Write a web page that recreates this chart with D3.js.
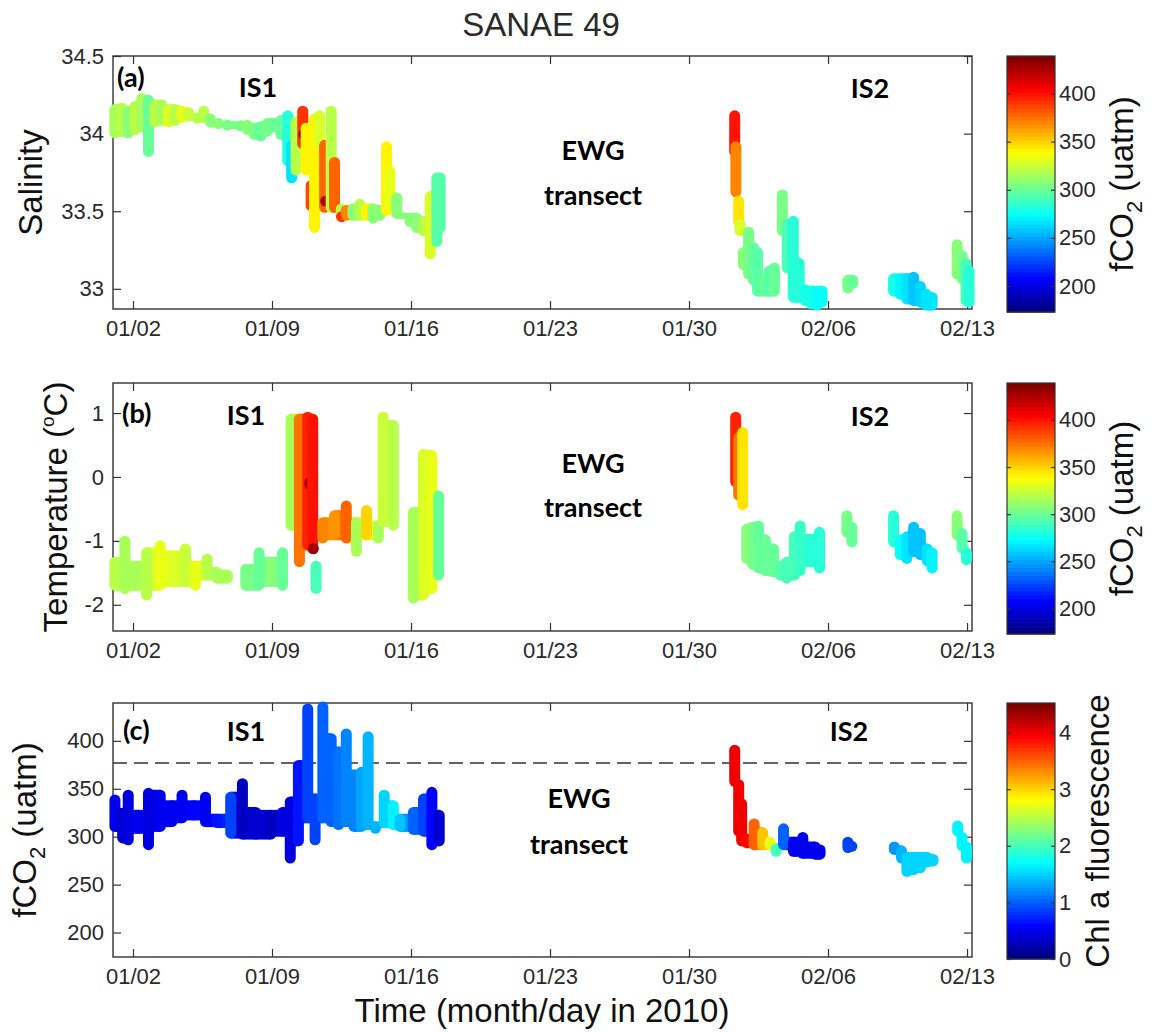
<!DOCTYPE html>
<html>
<head>
<meta charset="utf-8">
<script src="https://cdn.jsdelivr.net/npm/d3@7"></script>
<style>
    body { margin: 0; background: #fff; }
    svg text { font-family: "Liberation Sans", Arial, sans-serif; }
</style>
</head>
<body>
<svg id="chart" width="1157" height="1032"></svg>
<script>
// x ticks (day of 2010, Jan 1 = 1)
const tickDays = [2, 9, 16, 23, 30, 37, 44];

// each row: [day, low value, high value, colour value]
// (a) salinity, coloured by fCO2
const salinityIS1 = [
    [1.09, 33.97, 34.19, 315], [1.43, 33.98, 34.20, 320], [1.76, 33.97, 34.18, 310],
    [2.10, 33.99, 34.21, 320], [2.44, 34.01, 34.26, 315], [2.78, 33.85, 34.25, 300],
    [3.11, 34.04, 34.22, 320], [3.45, 34.05, 34.22, 315], [3.79, 34.04, 34.19, 330],
    [4.13, 34.05, 34.19, 320], [4.47, 34.07, 34.18, 335], [4.80, 34.08, 34.17, 325],
    [5.23, 34.07, 34.13, 320], [5.56, 34.07, 34.18, 320], [5.90, 34.04, 34.13, 310],
    [6.32, 34.04, 34.09, 310], [6.75, 34.03, 34.08, 305], [7.42, 34.02, 34.08, 305],
    [7.76, 33.99, 34.09, 310], [8.10, 33.96, 34.07, 305], [8.44, 33.95, 34.08, 300],
    [8.77, 33.98, 34.10, 305], [9.11, 34.01, 34.10, 300], [9.45, 33.96, 34.12, 300],
    [9.79, 33.79, 34.15, 285], [9.99, 33.68, 33.96, 268], [10.21, 33.73, 34.11, 320],
    [10.55, 33.90, 34.18, 390], [10.60, 33.97, 34.02, 430], [10.72, 33.73, 34.07, 340],
    [10.97, 33.50, 33.70, 385], [11.14, 33.36, 34.13, 340], [11.39, 33.90, 34.15, 330],
    [11.65, 33.49, 33.96, 380], [11.70, 33.55, 33.58, 425], [11.98, 33.49, 34.18, 320],
    [12.15, 33.49, 33.85, 380], [12.49, 33.44, 33.55, 320], [12.50, 33.45, 33.48, 390],
    [12.74, 33.44, 33.54, 370], [13.08, 33.44, 33.55, 310], [13.42, 33.44, 33.58, 320],
    [13.76, 33.44, 33.55, 340], [14.09, 33.42, 33.55, 310], [14.43, 33.44, 33.54, 310],
    [14.77, 33.47, 33.95, 340], [14.94, 33.51, 33.79, 335], [15.28, 33.45, 33.62, 310],
    [15.95, 33.40, 33.49, 310], [16.29, 33.36, 33.49, 310], [16.63, 33.34, 33.47, 320],
    [16.97, 33.19, 33.63, 330], [17.30, 33.27, 33.75, 295], [17.47, 33.36, 33.75, 295]
];
const salinityIS2 = [
    [32.30, 33.85, 34.15, 398], [32.36, 33.59, 33.95, 372], [32.50, 33.40, 33.60, 345],
    [32.57, 33.34, 33.45, 330], [32.74, 33.12, 33.27, 310], [33.00, 33.06, 33.40, 305],
    [33.25, 33.02, 33.30, 300], [33.45, 32.95, 33.27, 295], [33.70, 32.95, 33.10, 300],
    [34.05, 32.95, 33.15, 295], [34.30, 32.95, 33.17, 300], [34.70, 33.34, 33.64, 305],
    [34.95, 33.10, 33.45, 290], [35.25, 32.91, 33.47, 285], [35.55, 32.91, 33.20, 285],
    [35.85, 32.89, 33.03, 280], [36.15, 32.87, 33.02, 278], [36.44, 32.86, 33.02, 275],
    [36.70, 32.88, 33.02, 275], [38.00, 32.97, 33.09, 305], [38.25, 33.00, 33.09, 300],
    [40.30, 32.95, 33.10, 280], [40.64, 32.93, 33.10, 272], [40.97, 32.90, 33.10, 265],
    [41.31, 32.89, 33.11, 258], [41.65, 32.88, 33.05, 262], [41.95, 32.86, 33.00, 265],
    [42.24, 32.86, 32.98, 265], [43.50, 33.06, 33.32, 310], [43.75, 33.03, 33.25, 305],
    [43.95, 32.89, 33.20, 290], [44.10, 32.88, 33.15, 285]
];

// (b) temperature, coloured by fCO2
const temperatureIS1 = [
    [1.09, -1.78, -1.25, 320], [1.59, -1.83, -0.92, 315], [2.10, -1.78, -1.31, 315],
    [2.69, -1.93, -1.10, 320], [3.37, -1.78, -0.99, 335], [4.04, -1.72, -1.15, 330],
    [4.64, -1.72, -1.04, 325], [5.14, -1.78, -1.31, 335], [5.73, -1.62, -1.20, 320],
    [6.24, -1.67, -1.41, 315], [6.75, -1.67, -1.45, 315], [7.68, -1.78, -1.36, 305],
    [8.35, -1.78, -1.10, 300], [8.94, -1.72, -1.25, 310], [9.53, -1.78, -1.10, 300],
    [9.96, -0.84, 0.99, 318], [10.38, -1.41, 0.99, 375], [10.80, -1.15, 1.02, 395],
    [10.90, -0.20, 0.00, 425], [11.05, -1.20, 0.99, 400], [11.08, -1.15, -1.10, 430],
    [11.22, -1.83, -1.31, 290], [11.56, -1.04, -0.63, 370], [12.15, -0.99, -0.52, 365],
    [12.74, -1.04, -0.37, 380], [13.25, -1.25, -0.63, 315], [13.76, -0.99, -0.44, 350],
    [14.35, -1.04, -0.68, 315], [14.60, -0.78, 1.02, 325], [15.11, -0.84, 0.89, 320],
    [16.12, -1.98, -0.47, 315], [16.63, -1.93, 0.44, 330], [17.05, -1.83, 0.42, 335],
    [17.39, -1.62, -0.21, 300]
];
const temperatureIS2 = [
    [32.35, -0.16, 1.02, 395], [32.50, -0.37, 0.70, 375], [32.70, -0.52, 0.78, 345],
    [32.91, -1.36, -0.73, 310], [33.20, -1.45, -0.70, 305], [33.50, -1.51, -0.68, 300],
    [33.85, -1.55, -0.90, 298], [34.25, -1.57, -1.04, 300], [34.60, -1.62, -1.31, 295],
    [34.92, -1.67, -1.25, 290], [35.30, -1.62, -0.85, 290], [35.60, -1.55, -0.68, 288],
    [36.10, -1.41, -0.89, 285], [36.57, -1.51, -0.78, 285], [37.95, -0.95, -0.52, 302],
    [38.20, -1.10, -0.70, 298], [40.30, -1.10, -0.52, 282], [40.64, -1.30, -0.90, 275],
    [40.97, -1.36, -0.85, 268], [41.31, -1.25, -0.70, 258], [41.65, -1.30, -0.80, 258],
    [42.00, -1.40, -1.04, 268], [42.24, -1.51, -1.10, 272], [43.50, -0.99, -0.52, 308],
    [43.75, -1.20, -0.80, 295], [43.97, -1.38, -1.10, 285]
];

// (c) fCO2, coloured by Chl a fluorescence
const fco2IS1 = [
    [1.09, 305, 344, 0.5], [1.48, 293, 330, 0.4], [1.76, 291, 349, 0.45],
    [2.22, 303, 328, 0.5], [2.78, 286, 351, 0.45], [3.37, 305, 349, 0.55],
    [3.96, 310, 338, 0.5], [4.47, 314, 349, 0.55], [5.06, 317, 338, 0.6],
    [5.65, 310, 347, 0.55], [6.24, 309, 324, 0.7], [6.92, 298, 347, 0.85],
    [7.51, 297, 361, 0.35], [8.18, 297, 331, 0.4], [8.94, 297, 328, 0.35],
    [9.53, 300, 331, 0.45], [9.92, 272, 342, 0.45], [10.33, 290, 380, 0.7],
    [10.80, 314, 439, 0.85], [11.17, 291, 345, 0.9], [11.56, 314, 441, 1.0],
    [11.98, 310, 408, 1.05], [12.35, 307, 394, 1.1], [12.74, 310, 413, 1.15],
    [13.13, 305, 370, 1.2], [13.50, 305, 373, 1.3], [13.84, 307, 410, 1.35],
    [14.21, 303, 316, 1.4], [14.65, 309, 349, 1.55], [15.11, 307, 338, 1.65],
    [15.45, 305, 324, 1.45], [16.12, 302, 331, 1.0], [16.63, 300, 345, 0.9],
    [17.05, 286, 352, 0.6], [17.42, 290, 328, 0.4]
];
const fco2IS2 = [
    [32.30, 352, 396, 4.0], [32.50, 300, 360, 4.0], [32.65, 290, 340, 4.0],
    [32.91, 288, 303, 3.9], [33.28, 286, 319, 3.5], [33.71, 286, 310, 3.1],
    [34.08, 286, 300, 2.7], [34.39, 279, 293, 2.0], [34.76, 286, 314, 1.0],
    [35.26, 279, 300, 0.55], [35.73, 277, 305, 0.5], [36.35, 276, 295, 0.55],
    [36.60, 276, 292, 0.55], [38.00, 283, 300, 0.85], [38.20, 285, 295, 0.85],
    [40.34, 281, 295, 1.25], [40.70, 272, 291, 1.4], [40.97, 258, 284, 1.5],
    [41.31, 260, 284, 1.55], [41.65, 262, 284, 1.55], [42.00, 268, 284, 1.55],
    [42.29, 269, 282, 1.55], [43.53, 300, 317, 1.65], [43.75, 285, 305, 1.65],
    [43.97, 272, 295, 1.65]
];

const atmosphericFco2 = 377;
const fco2ColorRange = [173, 439];
const fco2ColorTicks = [200, 250, 300, 350, 400];
const chlColorRange = [0, 4.52];
const chlColorTicks = [0, 1, 2, 3, 4];

const svg = d3.select('#chart');
const plotLeft = 113, plotRight = 972;
const barLeft = 1007, barRight = 1055;
const markR = 5.5;
const maxGapDays = 0.8;
const ink = '#2a2a2a';

const dayToDate = d => new Date(new Date(2010, 0, 0).getTime() + d * 864e5);

const x = d3.scaleTime()
    .domain([dayToDate(0.993), dayToDate(44.25)])
    .range([plotLeft, plotRight]);

// MATLAB jet colormap, 64 levels
function jet(v) {
    v = Math.max(0, Math.min(1, v));
    v = Math.min(63, Math.floor(v * 64)) / 63;
    const c = t => Math.round(255 * Math.max(0, Math.min(1, 1.5 - Math.abs(t))));
    return `rgb(${c(4 * v - 3)},${c(4 * v - 2)},${c(4 * v - 1)})`;
}

const panels = [
    {
        top: 56, bottom: 309, yDomain: [32.87, 34.5], yTicks: [33, 33.5, 34, 34.5],
        series: [salinityIS1, salinityIS2], cRange: fco2ColorRange, cTicks: fco2ColorTicks,
        barTop: 56, barBottom: 312, ylabel: 'sal', ylabelX: 42, cbLabel: 'fco2', cbLabelX: 1133,
        notes: [['(a)', 117, 87, 'start'], ['IS1', 258, 97], ['EWG', 593, 160],
                ['transect', 593, 205], ['IS2', 870, 98]]
    },
    {
        top: 383, bottom: 631, yDomain: [-2.41, 1.47], yTicks: [-2, -1, 0, 1],
        series: [temperatureIS1, temperatureIS2], cRange: fco2ColorRange, cTicks: fco2ColorTicks,
        barTop: 383, barBottom: 634, ylabel: 'temp', ylabelX: 67, cbLabel: 'fco2', cbLabelX: 1133,
        notes: [['(b)', 122, 423, 'start'], ['IS1', 246, 425], ['EWG', 593, 473],
                ['transect', 593, 517], ['IS2', 870, 426]]
    },
    {
        top: 703, bottom: 957, yDomain: [174.5, 439.5], yTicks: [200, 250, 300, 350, 400],
        series: [fco2IS1, fco2IS2], cRange: chlColorRange, cTicks: chlColorTicks,
        barTop: 703, barBottom: 959, ylabel: 'fco2', ylabelX: 36, cbLabel: 'chl', cbLabelX: 1109,
        notes: [['(c)', 123, 740, 'start'], ['IS1', 246, 741], ['EWG', 579, 808],
                ['transect', 579, 854], ['IS2', 849, 741]],
        refLine: atmosphericFco2
    }
];

// title
svg.append('text')
    .attr('x', 541).attr('y', 36)
    .attr('text-anchor', 'middle')
    .style('font-size', '33px').style('fill', ink)
    .text('SANAE 49');

// axis label helper (rotated)
function rotatedLabel(kind, px, cy) {
    const t = svg.append('text')
        .attr('transform', `translate(${px},${cy}) rotate(-90)`)
        .attr('text-anchor', 'middle')
        .style('font-size', '33px').style('fill', '#111');
    if (kind === 'sal') t.text('Salinity');
    if (kind === 'chl') t.text('Chl a fluorescence');
    if (kind === 'temp') {
        t.append('tspan').text('Temperature (');
        t.append('tspan').attr('dy', -13).style('font-size', '19px').text('o');
        t.append('tspan').attr('dy', 13).text('C)');
    }
    if (kind === 'fco2') {
        t.append('tspan').text('fCO');
        t.append('tspan').attr('dy', 9).style('font-size', '22px').text('2');
        t.append('tspan').attr('dy', -9).text(' (uatm)');
    }
}

function styleAxis(g) {
    g.select('.domain').remove();
    g.selectAll('.tick line').attr('stroke', '#333').attr('stroke-width', 1.2);
    g.selectAll('.tick text')
        .style('font-size', '22px')
        .style('font-family', '"Liberation Sans", Arial, sans-serif')
        .attr('fill', ink);
}

panels.forEach(p => {
    const y = d3.scaleLinear().domain(p.yDomain).range([p.bottom, p.top]);
    const color = d3.scaleLinear().domain(p.cRange).range([0, 1]);

    // axes, ticks pointing inwards like MATLAB
    svg.append('g').attr('transform', `translate(0,${p.bottom})`)
        .call(d3.axisBottom(x).tickValues(tickDays.map(dayToDate))
            .tickFormat(d3.timeFormat('%m/%d')).tickSize(-8).tickPadding(11))
        .call(styleAxis);
    svg.append('g').attr('transform', `translate(0,${p.top})`)
        .call(d3.axisTop(x).tickValues(tickDays.map(dayToDate)).tickFormat('').tickSize(-8))
        .call(styleAxis);
    svg.append('g').attr('transform', `translate(${plotLeft},0)`)
        .call(d3.axisLeft(y).tickValues(p.yTicks).tickFormat(d => String(d))
            .tickSize(-8).tickPadding(9))
        .call(styleAxis);
    svg.append('g').attr('transform', `translate(${plotRight},0)`)
        .call(d3.axisRight(y).tickValues(p.yTicks).tickFormat('').tickSize(-8))
        .call(styleAxis);

    svg.append('rect')
        .attr('x', plotLeft).attr('y', p.top)
        .attr('width', plotRight - plotLeft).attr('height', p.bottom - p.top)
        .attr('fill', 'none').attr('stroke', '#333').attr('stroke-width', 1.4);

    if (p.refLine !== undefined) {
        svg.append('line')
            .attr('x1', plotLeft).attr('x2', plotRight)
            .attr('y1', y(p.refLine)).attr('y2', y(p.refLine))
            .attr('stroke', '#333').attr('stroke-width', 1.5)
            .attr('stroke-dasharray', '14,7');
    }

    // fill between neighbouring samples where their ranges overlap
    const bridges = [];
    p.series.forEach(s => {
        for (let i = 0; i < s.length - 1; i++) {
            const a = s[i], b = s[i + 1];
            if (b[0] - a[0] > maxGapDays) continue;
            const top = Math.max(y(a[2]), y(b[2]));
            const bottom = Math.min(y(a[1]), y(b[1]));
            if (bottom - top < 2) continue;
            bridges.push({ a, b, top, bottom });
        }
    });
    svg.append('g').selectAll('rect')
        .data(bridges)
        .enter().append('rect')
        .attr('x', d => x(dayToDate(d.a[0])))
        .attr('width', d => x(dayToDate(d.b[0])) - x(dayToDate(d.a[0])))
        .attr('y', d => d.top)
        .attr('height', d => d.bottom - d.top)
        .attr('fill', d => jet(color((d.a[3] + d.b[3]) / 2)));

    // scatter streaks
    const rows = p.series.flat();
    svg.append('g').selectAll('line')
        .data(rows)
        .enter().append('line')
        .attr('x1', d => x(dayToDate(d[0])))
        .attr('x2', d => x(dayToDate(d[0])))
        .attr('y1', d => {
            const a = y(d[2]) + markR, b = y(d[1]) - markR;
            return a <= b ? a : (a + b) / 2;
        })
        .attr('y2', d => {
            const a = y(d[2]) + markR, b = y(d[1]) - markR;
            return a <= b ? b : (a + b) / 2;
        })
        .attr('stroke', d => jet(color(d[3])))
        .attr('stroke-width', markR * 2)
        .attr('stroke-linecap', 'round');

    // annotations
    p.notes.forEach(n => {
        svg.append('text')
            .attr('x', n[1]).attr('y', n[2])
            .attr('text-anchor', n[3] || 'middle')
            .style('font-family', 'Lato, "Open Sans", sans-serif')
            .style('font-weight', 700)
            .style('font-size', '27px')
            .style('fill', '#000')
            .text(n[0]);
    });

    rotatedLabel(p.ylabel, p.ylabelX, (p.top + p.bottom) / 2);

    // colour bar
    const cb = d3.scaleLinear().domain(p.cRange).range([p.barBottom, p.barTop]);
    const steps = d3.range(64);
    const h = (p.barBottom - p.barTop) / 64;
    svg.append('g').selectAll('rect')
        .data(steps)
        .enter().append('rect')
        .attr('x', barLeft)
        .attr('y', i => p.barBottom - (i + 1) * h)
        .attr('width', barRight - barLeft)
        .attr('height', h + 0.6)
        .attr('fill', i => jet(i / 63));
    svg.append('rect')
        .attr('x', barLeft).attr('y', p.barTop)
        .attr('width', barRight - barLeft).attr('height', p.barBottom - p.barTop)
        .attr('fill', 'none').attr('stroke', '#333').attr('stroke-width', 1.2);
    svg.append('g').attr('transform', `translate(${barRight},0)`)
        .call(d3.axisRight(cb).tickValues(p.cTicks).tickSize(-4).tickPadding(4)
            .tickFormat(d => String(d)))
        .call(styleAxis);
    svg.append('g').attr('transform', `translate(${barLeft},0)`)
        .call(d3.axisLeft(cb).tickValues(p.cTicks).tickSize(-4).tickFormat(''))
        .call(styleAxis);

    rotatedLabel(p.cbLabel, p.cbLabelX, (p.barTop + p.barBottom) / 2);
});

svg.append('text')
    .attr('x', 542).attr('y', 1022)
    .attr('text-anchor', 'middle')
    .style('font-size', '33px').style('fill', '#111')
    .text('Time (month/day in 2010)');
</script>
</body>
</html>
